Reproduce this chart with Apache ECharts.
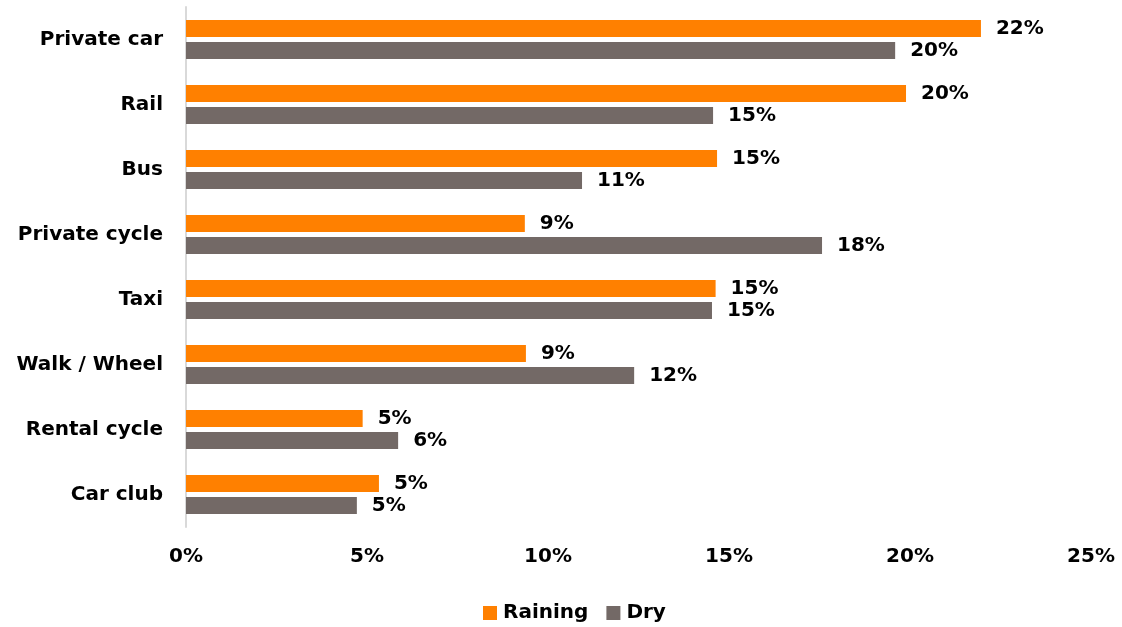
<!DOCTYPE html>
<html>
<head>
<meta charset="utf-8">
<script src="https://cdn.jsdelivr.net/npm/echarts@6/dist/echarts.min.js"></script>
<style>
  html, body { margin: 0; padding: 0; background: #fff; }
  #chart { width: 1122px; height: 627px; }
</style>
</head>
<body>
<div id="chart"></div>
<script>
// Travel mode share, raining vs dry days (percent)
const categories = ['Private car', 'Rail', 'Bus', 'Private cycle', 'Taxi', 'Walk / Wheel', 'Rental cycle', 'Car club'];
const raining = [21.96, 19.89, 14.67, 9.36, 14.63, 9.39, 4.88, 5.33];
const dry = [19.59, 14.56, 10.94, 17.57, 14.53, 12.38, 5.86, 4.72];
const seriesNames = ['Raining', 'Dry'];

const FONT = '"DejaVu Sans"';
const pct = v => Math.round(v) + '%';

const labelStyle = {
  show: true,
  position: 'right',
  distance: 15,
  color: '#000',
  fontFamily: FONT,
  fontWeight: 'bold',
  fontSize: 20,
  formatter: p => pct(p.value)
};

const chart = echarts.init(document.getElementById('chart'));
chart.setOption({
  animation: false,
  textStyle: { fontFamily: FONT },
  grid: { left: 186, right: 31, top: 7, bottom: 100, containLabel: false },
  legend: {
    data: seriesNames,
    left: 478,
    top: 598,
    itemWidth: 14,
    itemHeight: 14,
    itemGap: 18,
    icon: 'rect',
    textStyle: { fontFamily: FONT, fontWeight: 'bold', fontSize: 20, color: '#000', padding: [0, 0, 0, 1] }
  },
  xAxis: {
    type: 'value',
    min: 0,
    max: 25,
    interval: 5,
    axisLine: { show: false },
    axisTick: { show: false },
    splitLine: { show: false },
    axisLabel: {
      formatter: v => v + '%',
      color: '#000',
      fontFamily: FONT,
      fontWeight: 'bold',
      fontSize: 20,
      margin: 20
    }
  },
  yAxis: {
    type: 'category',
    data: categories,
    inverse: true,
    axisLine: { show: true, lineStyle: { color: '#d9d9d9', width: 2 } },
    axisTick: { show: false },
    axisLabel: {
      color: '#000',
      fontFamily: FONT,
      fontWeight: 'bold',
      fontSize: 20,
      margin: 23
    }
  },
  series: [
    {
      name: seriesNames[0],
      type: 'bar',
      data: raining,
      barWidth: 17,
      barGap: '30%',
      itemStyle: { color: '#FF8000' },
      label: labelStyle
    },
    {
      name: seriesNames[1],
      type: 'bar',
      data: dry,
      barWidth: 17,
      barGap: '30%',
      itemStyle: { color: '#736966' },
      label: labelStyle
    }
  ]
});
</script>
</body>
</html>
